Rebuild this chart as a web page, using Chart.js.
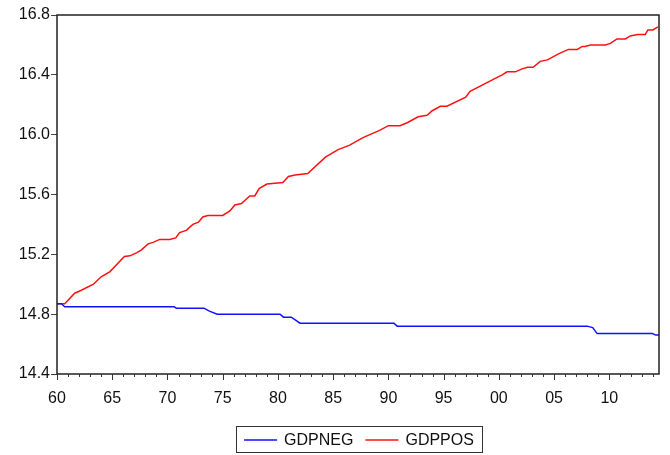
<!DOCTYPE html>
<html>
<head>
<meta charset="utf-8">
<script src="https://cdn.jsdelivr.net/npm/chart.js@4.4.1/dist/chart.umd.min.js"></script>
<style>
  html, body { margin: 0; padding: 0; background: #fff; }
  #wrap { width: 670px; height: 455px; }
</style>
</head>
<body>
<div id="wrap"><canvas id="grafico"></canvas></div>
<script>
// Series (fractional years, values)
const posYears = [1960.0, 1960.7, 1961.6, 1962.2, 1963.3, 1964.0, 1964.8, 1966.1, 1966.6, 1967.2,
  1967.65, 1968.25, 1968.7, 1969.3, 1970.2, 1970.75, 1971.1, 1971.7, 1972.3, 1972.8,
  1973.2, 1973.65, 1975.0, 1975.65, 1976.1, 1976.7, 1977.45, 1977.9, 1978.3, 1979.0,
  1980.45, 1980.95, 1981.55, 1982.7, 1984.3, 1985.45, 1986.5, 1987.7, 1989.25, 1990.0,
  1991.05, 1991.7, 1992.7, 1993.5, 1993.97, 1994.7, 1995.3, 1997.0, 1997.4, 1999.5,
  2000.3, 2000.75, 2001.5, 2002.1, 2002.6, 2003.1, 2003.75, 2004.4, 2005.4, 2006.3,
  2007.1, 2007.55, 2007.8, 2008.3, 2009.65, 2010.1, 2010.7, 2011.45, 2011.9, 2012.55,
  2013.25, 2013.5, 2013.95, 2014.4];
const posValues = [14.87, 14.87, 14.94, 14.96, 15.00, 15.05, 15.085, 15.185, 15.19, 15.21,
  15.23, 15.27, 15.28, 15.30, 15.30, 15.31, 15.345, 15.36, 15.40, 15.415,
  15.45, 15.46, 15.46, 15.49, 15.53, 15.54, 15.59, 15.59, 15.64, 15.67,
  15.68, 15.72, 15.73, 15.74, 15.85, 15.90, 15.93, 15.98, 16.03, 16.06,
  16.06, 16.08, 16.12, 16.13, 16.16, 16.19, 16.19, 16.25, 16.29, 16.37,
  16.40, 16.42, 16.42, 16.44, 16.45, 16.45, 16.49, 16.50, 16.54, 16.57,
  16.57, 16.59, 16.59, 16.60, 16.60, 16.61, 16.64, 16.64, 16.66, 16.67,
  16.67, 16.70, 16.70, 16.72];

const negYears = [1960.0, 1960.4, 1960.7, 1970.6, 1970.8, 1973.3, 1973.8, 1974.5, 1980.2, 1980.5,
  1981.2, 1981.6, 1982.0, 1990.5, 1990.8, 2008.0, 2008.5, 2008.9, 2013.9, 2014.2, 2014.5];
const negValues = [14.87, 14.87, 14.85, 14.85, 14.84, 14.84, 14.82, 14.80, 14.80, 14.78,
  14.78, 14.76, 14.74, 14.74, 14.72, 14.72, 14.71, 14.67, 14.67, 14.66, 14.66];

const tickYears = [1960, 1965, 1970, 1975, 1980, 1985, 1990, 1995, 2000, 2005, 2010];
const tickLabels = ["60", "65", "70", "75", "80", "85", "90", "95", "00", "05", "10"];

const fuente = "'Liberation Sans', Arial, sans-serif";

// Marco del gráfico, marcas del eje X y leyenda con recuadro
const marco = {
  id: "marco",
  afterDraw(chart) {
    const { ctx, chartArea: a } = chart;
    const xs = chart.scales.x;
    ctx.save();
    ctx.strokeStyle = "#222";
    ctx.lineWidth = 1.5;
    ctx.strokeRect(a.left, a.top, a.right - a.left, a.bottom - a.top);

    ctx.lineWidth = 1;
    ctx.strokeStyle = "#333";
    for (let v = 1960; v <= 2014; v++) {
      const px = Math.round(xs.getPixelForValue(v)) + 0.5;
      const len = v % 5 === 0 ? 6 : 3;
      ctx.beginPath();
      ctx.moveTo(px, a.bottom);
      ctx.lineTo(px, a.bottom + len);
      ctx.stroke();
    }

    // leyenda
    ctx.font = "16px " + fuente;
    ctx.textBaseline = "middle";
    const lineW = 33, gap1 = 7, gap2 = 12;
    const items = chart.data.datasets.map((d) => ({
      text: d.label,
      color: d.borderColor,
      w: ctx.measureText(d.label).width,
    }));
    let total = 0;
    items.forEach((it, i) => { total += lineW + gap1 + it.w + (i < items.length - 1 ? gap2 : 0); });
    const cx = 359, cy = 440;
    let x = cx - total / 2;
    ctx.strokeStyle = "#333";
    ctx.strokeRect(Math.round(x - 8) + 0.5, 426.5, Math.round(total + 16), 26);
    items.forEach((it) => {
      ctx.strokeStyle = it.color;
      ctx.lineWidth = 1.5;
      ctx.beginPath();
      ctx.moveTo(x, cy);
      ctx.lineTo(x + lineW, cy);
      ctx.stroke();
      x += lineW + gap1;
      ctx.fillStyle = "#111";
      ctx.fillText(it.text, x, cy + 1);
      x += it.w + gap2;
    });
    ctx.restore();
  },
};

const ctx = document.getElementById("grafico").getContext("2d");
new Chart(ctx, {
  type: "line",
  data: {
    datasets: [
      {
        label: "GDPNEG",
        data: negYears.map((x, i) => ({ x, y: negValues[i] })),
        borderColor: "#1010ff",
        borderWidth: 1.5,
        pointRadius: 0,
        tension: 0,
      },
      {
        label: "GDPPOS",
        data: posYears.map((x, i) => ({ x, y: posValues[i] })),
        borderColor: "#ff1010",
        borderWidth: 1.5,
        pointRadius: 0,
        tension: 0,
      },
    ],
  },
  options: {
    responsive: true,
    maintainAspectRatio: false,
    animation: false,
    layout: { padding: { top: 15, right: 11, left: 0, bottom: 0 } },
    plugins: {
      legend: { display: false },
      tooltip: { enabled: false },
    },
    scales: {
      x: {
        type: "linear",
        min: 1960,
        max: 2014.5,
        afterBuildTicks: (scale) => {
          scale.ticks = tickYears.map((v) => ({ value: v }));
        },
        afterFit: (scale) => { scale.height = 81; },
        grid: { display: false, drawTicks: false },
        border: { display: false },
        ticks: {
          padding: 15,
          maxRotation: 0,
          autoSkip: false,
          color: "#111",
          font: { family: fuente, size: 16 },
          callback: (value) => tickLabels[tickYears.indexOf(value)] ?? "",
        },
      },
      y: {
        min: 14.4,
        max: 16.8,
        afterFit: (scale) => { scale.width = 57; },
        grid: { drawOnChartArea: false, drawTicks: true, tickLength: 6, color: "#444" },
        border: { display: false },
        ticks: {
          stepSize: 0.4,
          padding: 1,
          color: "#111",
          font: { family: fuente, size: 16 },
          callback: (value) => value.toFixed(1),
        },
      },
    },
  },
  plugins: [marco],
});
</script>
</body>
</html>
